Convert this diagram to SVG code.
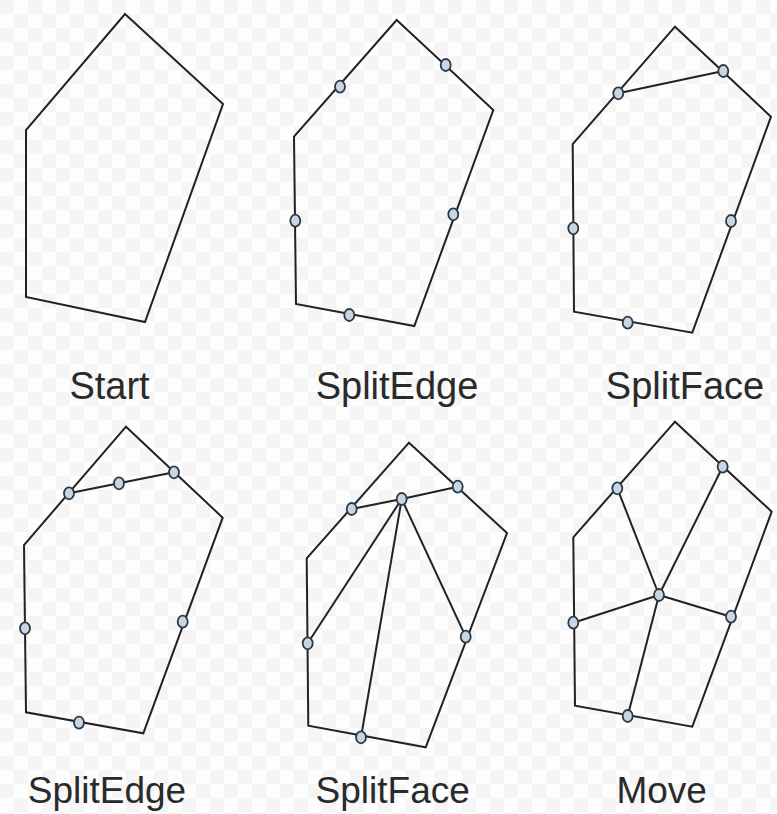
<svg xmlns="http://www.w3.org/2000/svg" width="777" height="814" viewBox="0 0 777 814">
<style>
.edge{fill:none;stroke:#222;stroke-width:2;stroke-linejoin:miter}
.dot{fill:#c9d5e1;stroke:#2b3a48;stroke-width:1.8}
.lbl{font-family:"Liberation Sans",Arial,sans-serif;fill:#2a2a2a;text-anchor:middle}
</style>
<defs>
<pattern id="chk" width="28" height="28" patternUnits="userSpaceOnUse">
<rect width="28" height="28" fill="#fdfdfd"/>
<rect width="14" height="14" fill="#f5f5f5"/>
<rect x="14" y="14" width="14" height="14" fill="#f5f5f5"/>
</pattern>
</defs>
<rect width="777" height="814" fill="url(#chk)"/>

<g id="panel-start">
<polygon class="edge" points="125,14 223,104 145,322 26,297 26,130"/>
<text class="lbl" x="109.5" y="399" font-size="38">Start</text>
</g>

<g id="panel-splitedge-1">
<polygon class="edge" points="396.7,20 493.3,110 414.3,326 296,304 294,136.7"/>
<g class="dots">
<ellipse class="dot" cx="340" cy="86.7" rx="5" ry="6"/>
<ellipse class="dot" cx="445.7" cy="65" rx="5" ry="6"/>
<ellipse class="dot" cx="295.3" cy="220.7" rx="5" ry="6"/>
<ellipse class="dot" cx="453.3" cy="214.3" rx="5" ry="6"/>
<ellipse class="dot" cx="349.3" cy="315" rx="5" ry="6"/>
</g>
<text class="lbl" x="397" y="399" font-size="38">SplitEdge</text>
</g>

<g id="panel-splitface-1">
<polygon class="edge" points="675,26.7 771,116.7 692.3,332.7 574,311.7 572.7,144"/>
<g id="connectors-3"><line class="edge" x1="618.3" y1="93.3" x2="723.3" y2="71"/></g>
<ellipse class="dot" cx="618.3" cy="93.3" rx="5" ry="6"/>
<ellipse class="dot" cx="723.3" cy="71" rx="5" ry="6"/>
<ellipse class="dot" cx="573.3" cy="228.3" rx="5" ry="6"/>
<ellipse class="dot" cx="731" cy="221" rx="5" ry="6"/>
<ellipse class="dot" cx="627.7" cy="322.7" rx="5" ry="6"/>
<text class="lbl" x="685" y="399" font-size="38">SplitFace</text>
</g>

<g id="panel-splitedge-2">
<polygon class="edge" points="126,426.7 222.7,517.7 143.3,733.3 26,712.3 24,545"/>
<g id="connectors-4"><polyline class="edge" points="69,493.3 119,483.3 174,472.3"/></g>
<ellipse class="dot" cx="69" cy="493.3" rx="5" ry="6"/>
<ellipse class="dot" cx="119" cy="483.3" rx="5" ry="6"/>
<ellipse class="dot" cx="174" cy="472.3" rx="5" ry="6"/>
<ellipse class="dot" cx="25" cy="628.3" rx="5" ry="6"/>
<ellipse class="dot" cx="182.7" cy="621.7" rx="5" ry="6"/>
<ellipse class="dot" cx="79" cy="722.7" rx="5" ry="6"/>
<text class="lbl" x="107" y="803" font-size="37">SplitEdge</text>
</g>

<g id="panel-splitface-2">
<polygon class="edge" points="409,442.7 507,533 425.7,747.3 308.3,725.7 306.7,558.3"/>
<g id="connectors-5">
<polyline class="edge" points="351.7,509 401.7,499 457.7,486.7"/>
<line class="edge" x1="401.7" y1="499" x2="307.7" y2="643.3"/>
<line class="edge" x1="401.7" y1="499" x2="361" y2="737.3"/>
<line class="edge" x1="401.7" y1="499" x2="465.7" y2="636.7"/>
</g>
<ellipse class="dot" cx="351.7" cy="509" rx="5" ry="6"/>
<ellipse class="dot" cx="401.7" cy="499" rx="5" ry="6"/>
<ellipse class="dot" cx="457.7" cy="486.7" rx="5" ry="6"/>
<ellipse class="dot" cx="307.7" cy="643.3" rx="5" ry="6"/>
<ellipse class="dot" cx="465.7" cy="636.7" rx="5" ry="6"/>
<ellipse class="dot" cx="361" cy="737.3" rx="5" ry="6"/>
<text class="lbl" x="392.7" y="803" font-size="37">SplitFace</text>
</g>

<g id="panel-move">
<polygon class="edge" points="675,421.7 771.7,511.7 692.3,726.7 575,705.7 573.3,537.3"/>
<g id="connectors-6">
<line class="edge" x1="659" y1="595" x2="617.3" y2="488.3"/>
<line class="edge" x1="659" y1="595" x2="722.7" y2="466.7"/>
<line class="edge" x1="659" y1="595" x2="573.3" y2="622.7"/>
<line class="edge" x1="659" y1="595" x2="731" y2="616.7"/>
<line class="edge" x1="659" y1="595" x2="627.7" y2="716"/>
</g>
<ellipse class="dot" cx="617.3" cy="488.3" rx="5" ry="6"/>
<ellipse class="dot" cx="722.7" cy="466.7" rx="5" ry="6"/>
<ellipse class="dot" cx="573.3" cy="622.7" rx="5" ry="6"/>
<ellipse class="dot" cx="731" cy="616.7" rx="5" ry="6"/>
<ellipse class="dot" cx="627.7" cy="716" rx="5" ry="6"/>
<ellipse class="dot" cx="659" cy="595" rx="5" ry="6"/>
<text class="lbl" x="661.7" y="803" font-size="37">Move</text>
</g>
</svg>
